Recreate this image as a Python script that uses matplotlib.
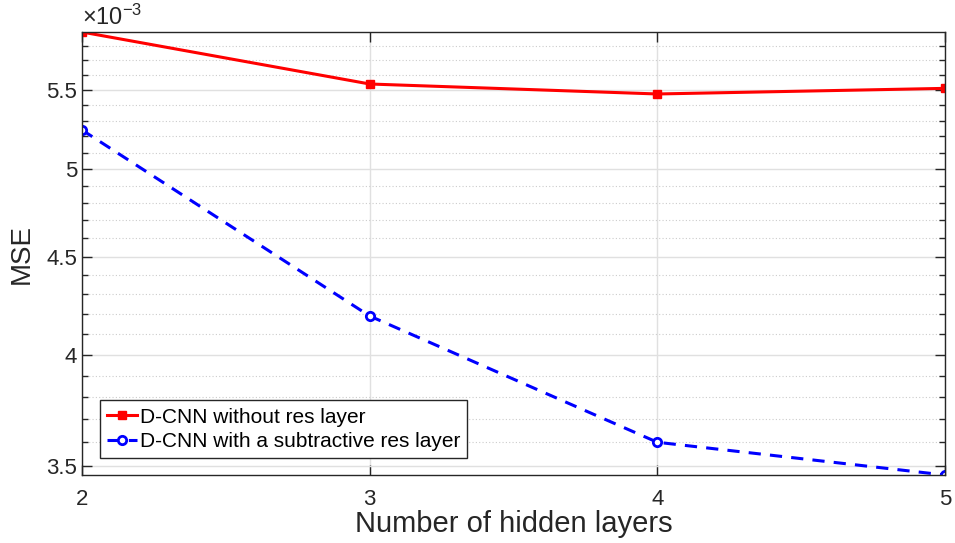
import numpy as np
import matplotlib.pyplot as plt
from matplotlib.ticker import FixedLocator, FuncFormatter, NullFormatter

plt.rcParams['font.family'] = ['Liberation Sans', 'DejaVu Sans']
plt.rcParams['mathtext.fontset'] = 'custom'
plt.rcParams['mathtext.rm'] = 'Liberation Sans'
plt.rcParams['mathtext.it'] = 'Liberation Sans:italic'

layers = [2, 3, 4, 5]
mse_plain = [5.895e-3, 5.538e-3, 5.472e-3, 5.509e-3]
mse_res = [5.240e-3, 4.190e-3, 3.600e-3, 3.461e-3]
labels = ['D-CNN without res layer', 'D-CNN with a subtractive res layer']

major_y = [3.5e-3, 4.0e-3, 4.5e-3, 5.0e-3, 5.5e-3]
minor_y = [v * 1e-4 for v in range(35, 60)]

edge = (0.15, 0.15, 0.15)

fig = plt.figure(figsize=(9.55, 5.43), dpi=100)
ax = fig.add_axes([0.0859, 0.1252, 0.9036, 0.8158])

ax.plot(layers, mse_plain, '-s', color='red', lw=2.2, ms=6,
        mfc='red', mec='red', label=labels[0])
ax.plot(layers, mse_res, '--o', color='blue', lw=2.2, ms=6,
        mfc='white', mec='blue', mew=2, dashes=(4, 3), label=labels[1])

ax.set_yscale('log')
ax.set_xlim(2, 5)
ax.set_ylim(min(mse_res), max(mse_plain))
ax.set_xticks(layers)
ax.yaxis.set_major_locator(FixedLocator(major_y))
ax.yaxis.set_minor_locator(FixedLocator(minor_y))
ax.yaxis.set_major_formatter(FuncFormatter(lambda v, p: f'{v * 1e3:g}'))
ax.yaxis.set_minor_formatter(NullFormatter())

ax.grid(True, which='major', color=(0.88, 0.88, 0.88), lw=1)
ax.grid(True, which='minor', axis='y', color=(0.8, 0.8, 0.8), lw=0.8, ls=(0, (1, 2)))
ax.set_axisbelow(True)

ax.tick_params(which='both', direction='in', top=True, right=True,
               colors=edge, labelcolor=edge, labelsize=16)
ax.tick_params(which='major', length=7, width=1)
ax.tick_params(which='minor', length=4, width=1)
ax.tick_params(axis='x', pad=10)
for s in ax.spines.values():
    s.set_color(edge)
    s.set_linewidth(1)

ax.text(0.0, 1.005, r'$\times10^{-3}$', transform=ax.transAxes,
        fontsize=17, color=edge, ha='left', va='bottom')

ax.set_xlabel('Number of hidden layers', fontsize=21, color=edge, labelpad=0)
ax.set_ylabel('MSE', fontsize=20, color=edge, labelpad=8)

leg = ax.legend(loc='lower left', bbox_to_anchor=(0.021, 0.038), borderaxespad=0,
                fontsize=15, handlelength=1.4, handletextpad=0.15, borderpad=0.35,
                labelspacing=0.25, fancybox=False, framealpha=1,
                edgecolor=edge)
leg.get_frame().set_linewidth(1)

fig.savefig('out.png', dpi=100)
